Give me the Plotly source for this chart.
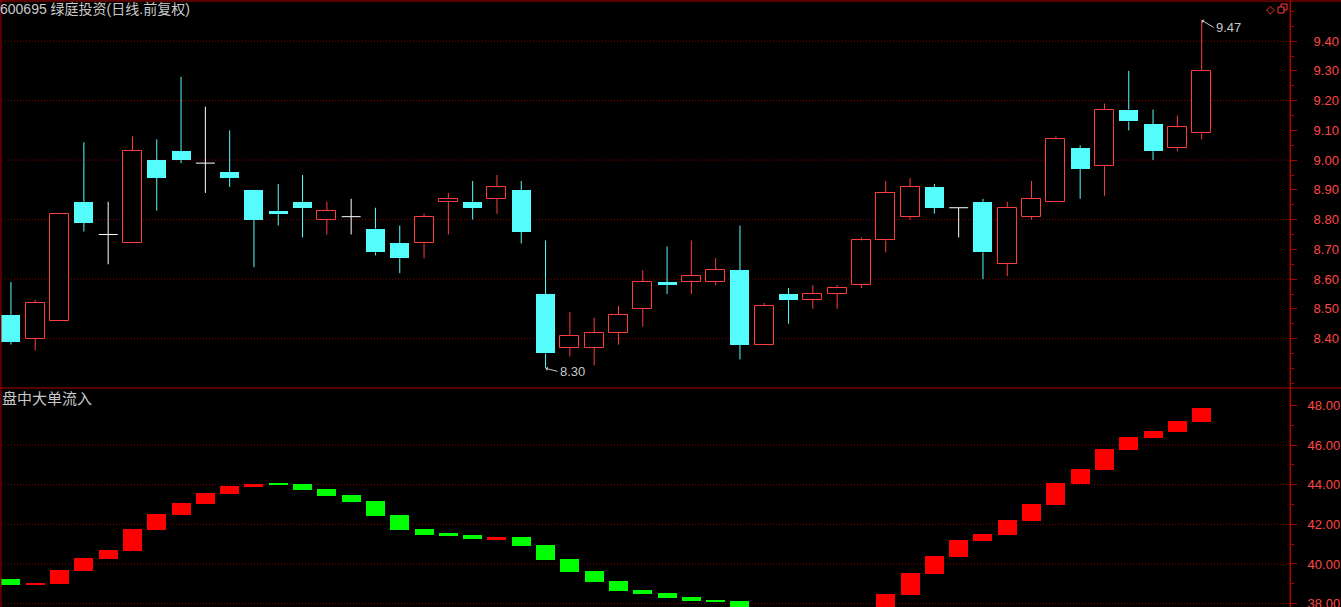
import plotly.graph_objects as go

# ---------------- data ----------------
IDX = list(range(50))
OPEN = [8.48, 8.40, 8.46, 8.86, 8.75, 8.72, 9.00, 9.03, 8.99, 8.96,
        8.90, 8.83, 8.86, 8.80, 8.81, 8.77, 8.72, 8.72, 8.86, 8.86,
        8.87, 8.90, 8.55, 8.37, 8.37, 8.42, 8.50, 8.59, 8.59, 8.59,
        8.63, 8.38, 8.55, 8.53, 8.55, 8.58, 8.73, 8.81, 8.91, 8.84,
        8.86, 8.65, 8.81, 8.86, 9.04, 8.98, 9.17, 9.12, 9.04, 9.09]
HIGH = [8.59, 8.53, 8.82, 9.06, 8.86, 9.08, 9.07, 9.28, 9.18, 9.10,
        8.90, 8.92, 8.95, 8.86, 8.87, 8.84, 8.78, 8.82, 8.89, 8.93,
        8.95, 8.93, 8.73, 8.49, 8.47, 8.51, 8.63, 8.71, 8.73, 8.67,
        8.78, 8.52, 8.57, 8.58, 8.58, 8.74, 8.93, 8.94, 8.92, 8.84,
        8.87, 8.86, 8.93, 9.08, 9.05, 9.19, 9.30, 9.17, 9.15, 9.47]
LOW = [8.38, 8.36, 8.46, 8.76, 8.65, 8.72, 8.83, 8.99, 8.89, 8.91,
       8.64, 8.78, 8.74, 8.75, 8.75, 8.68, 8.62, 8.67, 8.75, 8.80,
       8.82, 8.72, 8.30, 8.34, 8.31, 8.38, 8.44, 8.55, 8.55, 8.58,
       8.33, 8.38, 8.45, 8.50, 8.50, 8.57, 8.69, 8.80, 8.82, 8.74,
       8.60, 8.61, 8.80, 8.86, 8.87, 8.88, 9.10, 9.00, 9.03, 9.07]
CLOSE = [8.39, 8.52, 8.82, 8.79, 8.75, 9.03, 8.94, 9.00, 8.99, 8.94,
         8.80, 8.82, 8.84, 8.83, 8.81, 8.69, 8.67, 8.81, 8.87, 8.84,
         8.91, 8.76, 8.35, 8.41, 8.42, 8.48, 8.59, 8.58, 8.61, 8.63,
         8.38, 8.51, 8.53, 8.55, 8.57, 8.73, 8.89, 8.91, 8.84, 8.84,
         8.69, 8.84, 8.87, 9.07, 8.97, 9.17, 9.13, 9.03, 9.11, 9.30]

FLOW_START = [39.25, 38.95, 38.99, 39.65, 40.25, 40.66, 41.72, 42.48, 43.04, 43.54,
              43.90, 44.05, 44.05, 43.80, 43.49, 43.19, 42.48, 41.77, 41.52, 41.47,
              41.26, 41.36, 40.96, 40.26, 39.65, 39.15, 38.69, 38.54, 38.34, 38.19,
              38.13, 37.65, 37.35, 37.15, 37.25, 37.45, 37.70, 38.44, 39.50, 40.36,
              41.17, 41.47, 42.18, 42.98, 44.04, 44.75, 45.76, 46.37, 46.67, 47.18]
FLOW_END = [38.95, 39.05, 39.70, 40.31, 40.71, 41.77, 42.53, 43.08, 43.59, 43.95,
            44.05, 44.00, 43.74, 43.44, 43.14, 42.43, 41.72, 41.47, 41.42, 41.26,
            41.36, 40.91, 40.21, 39.60, 39.10, 38.64, 38.49, 38.29, 38.13, 38.08,
            37.60, 37.30, 37.15, 37.30, 37.50, 37.75, 38.49, 39.54, 40.40, 41.22,
            41.52, 42.23, 43.03, 44.09, 44.80, 45.81, 46.42, 46.72, 47.23, 47.89]

PRICE_LABELS = [8.40, 8.50, 8.60, 8.70, 8.80, 8.90, 9.00, 9.10, 9.20, 9.30, 9.40]
PRICE_GRID = [8.40, 8.60, 8.80, 9.00, 9.20, 9.40]
FLOW_LABELS = [38, 40, 42, 44, 46, 48]
FLOW_GRID = [38, 40, 42, 44, 46]

TITLE = "600695 绿庭投资(日线.前复权)"
PANEL2 = "盘中大单流入"

# ---------------- style ----------------
BG = "#000000"
FRAME = "#b00000"
GRID = "#8c0000"
AXIS_TXT = "#ff4646"
UP = "#ff3c3c"
DOWN = "#54fcfc"
FLAT = "#ffffff"
FLOW_UP = "#ff0000"
FLOW_DN = "#00ff00"
TXT = "#c8c8c8"

W, H = 1341, 607
ML, MR, MT, MB = 1, 51, 1, 0
PW, PH = W - ML - MR, H - MT - MB
BODY_W = 0.78
SPLIT_PX = 388


def px_x(p):
    return (p - ML) / PW


def px_y(p):
    return 1 - (p - MT) / PH


split = px_y(SPLIT_PX)

fig = go.Figure()

up = [i for i in IDX if CLOSE[i] > OPEN[i]]
dn = [i for i in IDX if CLOSE[i] < OPEN[i]]
flat = [i for i in IDX if CLOSE[i] == OPEN[i]]


def wicks(ids):
    xs, ys = [], []
    for i in ids:
        lo_b, hi_b = min(OPEN[i], CLOSE[i]), max(OPEN[i], CLOSE[i])
        if LOW[i] < lo_b:
            xs += [i, i, None]
            ys += [LOW[i], lo_b, None]
        if HIGH[i] > hi_b:
            xs += [i, i, None]
            ys += [hi_b, HIGH[i], None]
    return xs, ys


# bodies
fig.add_trace(go.Bar(x=up, y=[CLOSE[i] - OPEN[i] for i in up], base=[OPEN[i] for i in up],
                     width=BODY_W, marker=dict(color=BG, line=dict(color=UP, width=1)),
                     xaxis="x", yaxis="y", hoverinfo="skip"))
fig.add_trace(go.Bar(x=dn, y=[CLOSE[i] - OPEN[i] for i in dn], base=[OPEN[i] for i in dn],
                     width=BODY_W, marker=dict(color=DOWN, line=dict(width=0)),
                     xaxis="x", yaxis="y", hoverinfo="skip"))
# wicks
for ids, col in ((up, UP), (dn, DOWN), (flat, FLAT)):
    wx, wy = wicks(ids)
    fig.add_trace(go.Scatter(x=wx, y=wy, mode="lines", line=dict(color=col, width=1),
                             xaxis="x", yaxis="y", hoverinfo="skip"))
# doji bars
dx, dy = [], []
for i in flat:
    dx += [i - BODY_W / 2, i + BODY_W / 2, None]
    dy += [OPEN[i], OPEN[i], None]
fig.add_trace(go.Scatter(x=dx, y=dy, mode="lines", line=dict(color=FLAT, width=1),
                         xaxis="x", yaxis="y", hoverinfo="skip"))

# flow bars
fig.add_trace(go.Bar(x=IDX, y=[e - s for s, e in zip(FLOW_START, FLOW_END)], base=FLOW_START,
                     width=BODY_W,
                     marker=dict(color=[FLOW_UP if e >= s else FLOW_DN for s, e in zip(FLOW_START, FLOW_END)],
                                 line=dict(width=0)),
                     xaxis="x2", yaxis="y2", hoverinfo="skip"))

xr = [-0.41, -0.41 + PW / 24.3]

fig.update_layout(
    width=W, height=H, paper_bgcolor=BG, plot_bgcolor=BG,
    margin=dict(l=ML, r=MR, t=MT, b=MB, autoexpand=False),
    showlegend=False, barmode="overlay", bargap=0, hovermode=False,
    xaxis=dict(domain=[0, 1], range=xr, visible=False, anchor="y"),
    xaxis2=dict(domain=[0, 1], range=xr, visible=False, anchor="y2", matches="x"),
    yaxis=dict(domain=[split, 1], range=[8.234, 9.535], side="right", anchor="x",
               tickvals=PRICE_LABELS, ticktext=[f"{v:.2f}" for v in PRICE_LABELS],
               showgrid=False, zeroline=False, showline=True, linecolor=FRAME, linewidth=1,
               ticks="outside", ticklen=6, tickcolor=FRAME, tickwidth=1,
               ticklabelstandoff=14, ticklabeloverflow="allow",
               tickfont=dict(family="Liberation Sans", size=13, color=AXIS_TXT),
               minor=dict(dtick=0.05, tick0=8.4, ticks="outside", ticklen=3,
                          tickcolor=FRAME, showgrid=False)),
    yaxis2=dict(domain=[0, split], range=[37.83, 48.88], side="right", anchor="x2",
                tickvals=FLOW_LABELS, ticktext=[f"{v:.2f}" for v in FLOW_LABELS],
                showgrid=False, zeroline=False, showline=True, linecolor=FRAME, linewidth=1,
                ticks="outside", ticklen=6, tickcolor=FRAME, tickwidth=1,
                ticklabelstandoff=8, ticklabeloverflow="allow",
                tickfont=dict(family="Liberation Sans", size=13, color=AXIS_TXT),
                minor=dict(dtick=1, tick0=38, ticks="outside", ticklen=3,
                           tickcolor=FRAME, showgrid=False)),
)

shapes = []
for v in PRICE_GRID:
    shapes.append(dict(type="line", xref="paper", yref="y", x0=px_x(5), x1=1, y0=v, y1=v,
                       line=dict(color=GRID, width=1, dash="1px,2px"), layer="below"))
for v in FLOW_GRID:
    shapes.append(dict(type="line", xref="paper", yref="y2", x0=px_x(5), x1=1, y0=v, y1=v,
                       line=dict(color=GRID, width=1, dash="1px,2px"), layer="below"))
# frame
shapes += [
    dict(type="line", xref="paper", yref="paper", x0=px_x(0), x1=px_x(W), y0=px_y(1), y1=px_y(1),
         line=dict(color=FRAME, width=1)),
    dict(type="line", xref="paper", yref="paper", x0=px_x(0), x1=px_x(W), y0=split, y1=split,
         line=dict(color=FRAME, width=1)),
    dict(type="line", xref="paper", yref="paper", x0=px_x(1), x1=px_x(1), y0=px_y(0), y1=px_y(H),
         line=dict(color=FRAME, width=1)),
    dict(type="line", xref="paper", yref="paper", x0=1, x1=1, y0=px_y(0), y1=px_y(H),
         line=dict(color=FRAME, width=1)),
    # window icon
    dict(type="rect", xref="paper", yref="paper", x0=px_x(1281), x1=px_x(1287), y0=px_y(4), y1=px_y(10),
         line=dict(color=UP, width=1)),
    dict(type="rect", xref="paper", yref="paper", x0=px_x(1278), x1=px_x(1284), y0=px_y(7), y1=px_y(13),
         line=dict(color=UP, width=1), fillcolor=BG),
]
fig.update_layout(shapes=shapes)

hi_i = max(IDX, key=lambda i: HIGH[i])
lo_i = min(IDX, key=lambda i: LOW[i])
ann = [
    dict(text=TITLE, xref="paper", yref="paper", x=px_x(-2), y=px_y(9.5), xanchor="left",
         yanchor="middle", showarrow=False,
         font=dict(family="Liberation Sans, Noto Sans CJK SC", size=14, color=TXT)),
    dict(text=PANEL2, xref="paper", yref="paper", x=px_x(0), y=px_y(397), xanchor="left",
         yanchor="middle", showarrow=False,
         font=dict(family="Noto Sans CJK SC", size=15, color=TXT)),
    dict(text=f"{HIGH[hi_i]:.2f}", x=hi_i, y=HIGH[hi_i], xref="x", yref="y", showarrow=True,
         ax=12, ay=7, xanchor="left", yanchor="middle", arrowhead=1, arrowsize=0.7, arrowwidth=1,
         arrowcolor=TXT, standoff=0, font=dict(family="Liberation Sans", size=13, color=TXT)),
    dict(text=f"{LOW[lo_i]:.2f}", x=lo_i, y=LOW[lo_i], xref="x", yref="y", showarrow=True,
         ax=12, ay=3, xanchor="left", yanchor="middle", arrowhead=1, arrowsize=0.7, arrowwidth=1,
         arrowcolor=TXT, standoff=0, font=dict(family="Liberation Sans", size=13, color=TXT)),
    dict(text="◇", xref="paper", yref="paper", x=px_x(1270), y=px_y(9), xanchor="center",
         yanchor="middle", showarrow=False, font=dict(family="DejaVu Sans", size=11, color=UP)),
]
fig.update_layout(annotations=ann)

fig.write_html("out.html", config={"displayModeBar": False, "staticPlot": False},
               post_script="document.body.style.margin='0';document.body.style.overflow='hidden';")
